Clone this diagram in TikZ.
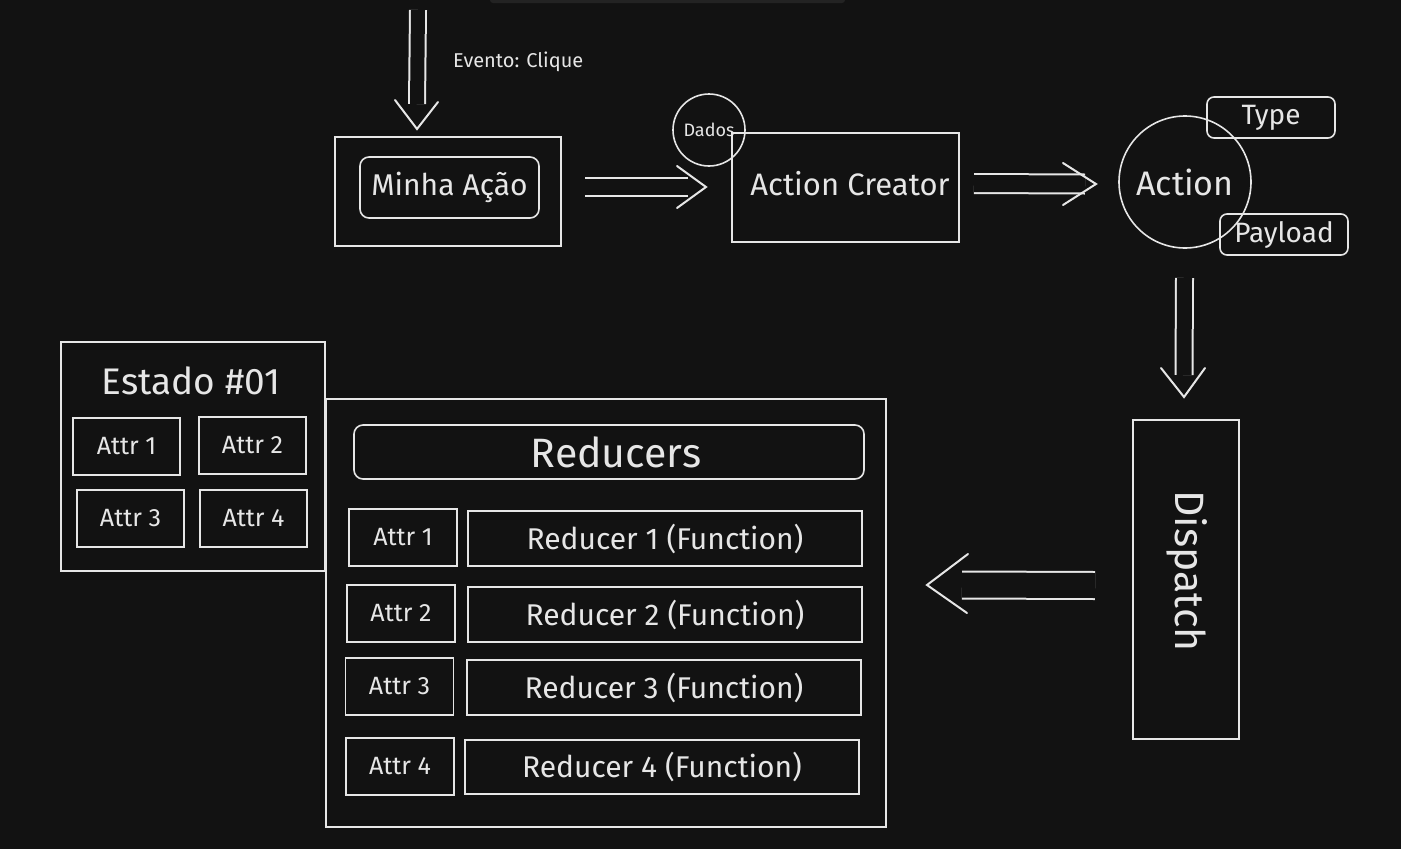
\documentclass[tikz,border=0pt]{standalone}
\usepackage{fontspec}
\setmainfont{Fira Sans}
\usetikzlibrary{calc}
\definecolor{bg}{HTML}{121212}
\definecolor{ink}{HTML}{E6E6E6}
\definecolor{bar}{HTML}{232323}
\tikzset{
  box/.style={draw=ink, line width=1.6pt, rectangle, inner sep=0pt, text=ink},
  rbox/.style={box, rounded corners=9pt},
  cbox/.style={draw=ink, line width=1.6pt, circle, inner sep=0pt, text=ink},
  lbl/.style={text=ink, inner sep=0pt},
  shaft/.style={draw=ink, line width=2pt, double=bg},
  head/.style={draw=ink, line width=2pt, line cap=round, line join=miter},
  fs/.style={font=\fontsize{#1}{#1}\selectfont}
}
\begin{document}
\begin{tikzpicture}[x=1pt,y=-1pt]
\fill[bg] (0,0) rectangle (1401,849);
\useasboundingbox (0,0) rectangle (1401,849);
\fill[bar, rounded corners=3pt] (490,-6) rectangle (845,3);

% top row
\node[box, minimum width=226pt, minimum height=109pt] (minha) at (448,191.5) {};
\node[rbox, minimum width=179pt, minimum height=61pt, fs=30] (minhain) at (449.5,187.5) {Minha Ação};
\node[box, minimum width=227pt, minimum height=109pt] (creator) at (845.5,187.5) {};
\node[lbl, fs=31] (creatortxt) at (850,184) {Action Creator};
\node[cbox, minimum size=72pt, fs=18] (dados) at (709,130) {Dados};
\node[cbox, minimum size=132pt, fs=34] (action) at (1185,182) {Action};
\node[rbox, minimum width=128pt, minimum height=41pt, rounded corners=7pt, fs=28] (type) at (1271,117.5) {Type};
\node[rbox, minimum width=128pt, minimum height=41pt, rounded corners=7pt, fs=28] (payload) at (1284,234.5) {Payload};
\node[lbl, fs=20, anchor=west] (evento) at (453,62) {Evento: Clique};

% dispatch
\node[box, minimum width=106pt, minimum height=319pt] (dispatch) at (1186,579.5) {};
\node[lbl, fs=41, rotate=-90] (dispatchtxt) at (1187,571) {Dispatch};

% estado
\node[box, minimum width=264pt, minimum height=229pt] (estado) at (193,456.5) {};
\node[lbl, fs=37] (estadotxt) at (191,381) {Estado \#01};
\node[box, minimum width=107pt, minimum height=57pt, fs=25] (ea1) at (126.5,446.5) {Attr 1};
\node[box, minimum width=107pt, minimum height=57pt, fs=25] (ea2) at (252.5,445.5) {Attr 2};
\node[box, minimum width=107pt, minimum height=57pt, fs=25] (ea3) at (130.5,518.5) {Attr 3};
\node[box, minimum width=107pt, minimum height=57pt, fs=25] (ea4) at (253.5,518.5) {Attr 4};

% reducers
\node[box, minimum width=560pt, minimum height=428pt] (reducers) at (606,613) {};
\node[rbox, minimum width=510pt, minimum height=54pt] (rhead) at (609,452) {};
\node[lbl, fs=41] (rheadtxt) at (616,452) {Reducers};
\node[box, minimum width=108pt, minimum height=57pt, fs=25] (ra1) at (403,537.5) {Attr 1};
\node[box, minimum width=394pt, minimum height=55pt, fs=30] (rf1) at (665,538.5) {Reducer 1 (Function)};
\node[box, minimum width=108pt, minimum height=57pt, fs=25] (ra2) at (401,613.5) {Attr 2};
\node[box, minimum width=394pt, minimum height=55pt, fs=30] (rf2) at (665,614.5) {Reducer 2 (Function)};
\node[box, minimum width=108pt, minimum height=57pt, fs=25] (ra3) at (399.5,686.5) {Attr 3};
\node[box, minimum width=394pt, minimum height=55pt, fs=30] (rf3) at (664,687.5) {Reducer 3 (Function)};
\node[box, minimum width=108pt, minimum height=57pt, fs=25] (ra4) at (400,766.5) {Attr 4};
\node[box, minimum width=394pt, minimum height=54pt, fs=30] (rf4) at (662,767) {Reducer 4 (Function)};

% arrows
\coordinate (a1s) at (418,10);
\coordinate (a1e) at (417,129);
\draw[shaft, double distance=14pt] (a1s) -- ($(a1e)+(0,-25)$);
\draw[head] ($(a1e)+(-22,-29)$) -- (a1e) -- ($(a1e)+(21,-27)$);

\coordinate (a2s) at (585,187);
\coordinate (a2e) at (706,187);
\draw[shaft, double distance=16pt] (a2s) -- ($(a2e)+(-18,0)$);
\draw[head] ($(a2e)+(-29,-21)$) -- (a2e) -- ($(a2e)+(-29,21)$);

\coordinate (a3s) at (974,183.5);
\coordinate (a3e) at (1096,184);
\draw[shaft, double distance=17pt] (a3s) -- ($(a3e)+(-11,0)$);
\draw[head] ($(a3e)+(-33,-21)$) -- (a3e) -- ($(a3e)+(-33,21)$);

\coordinate (a4s) at (1184.5,278);
\coordinate (a4e) at (1184,397);
\draw[shaft, double distance=15pt] (a4s) -- ($(a4e)+(0,-22)$);
\draw[head] ($(a4e)+(-23,-29)$) -- (a4e) -- ($(a4e)+(21,-29)$);

\coordinate (a5s) at (1095,585.5);
\coordinate (a5e) at (927,585);
\draw[shaft, double distance=25pt] (a5s) -- ($(a5e)+(35,0)$);
\draw[head] ($(a5e)+(41,-31)$) -- (a5e) -- ($(a5e)+(40,28)$);
\end{tikzpicture}
\end{document}
